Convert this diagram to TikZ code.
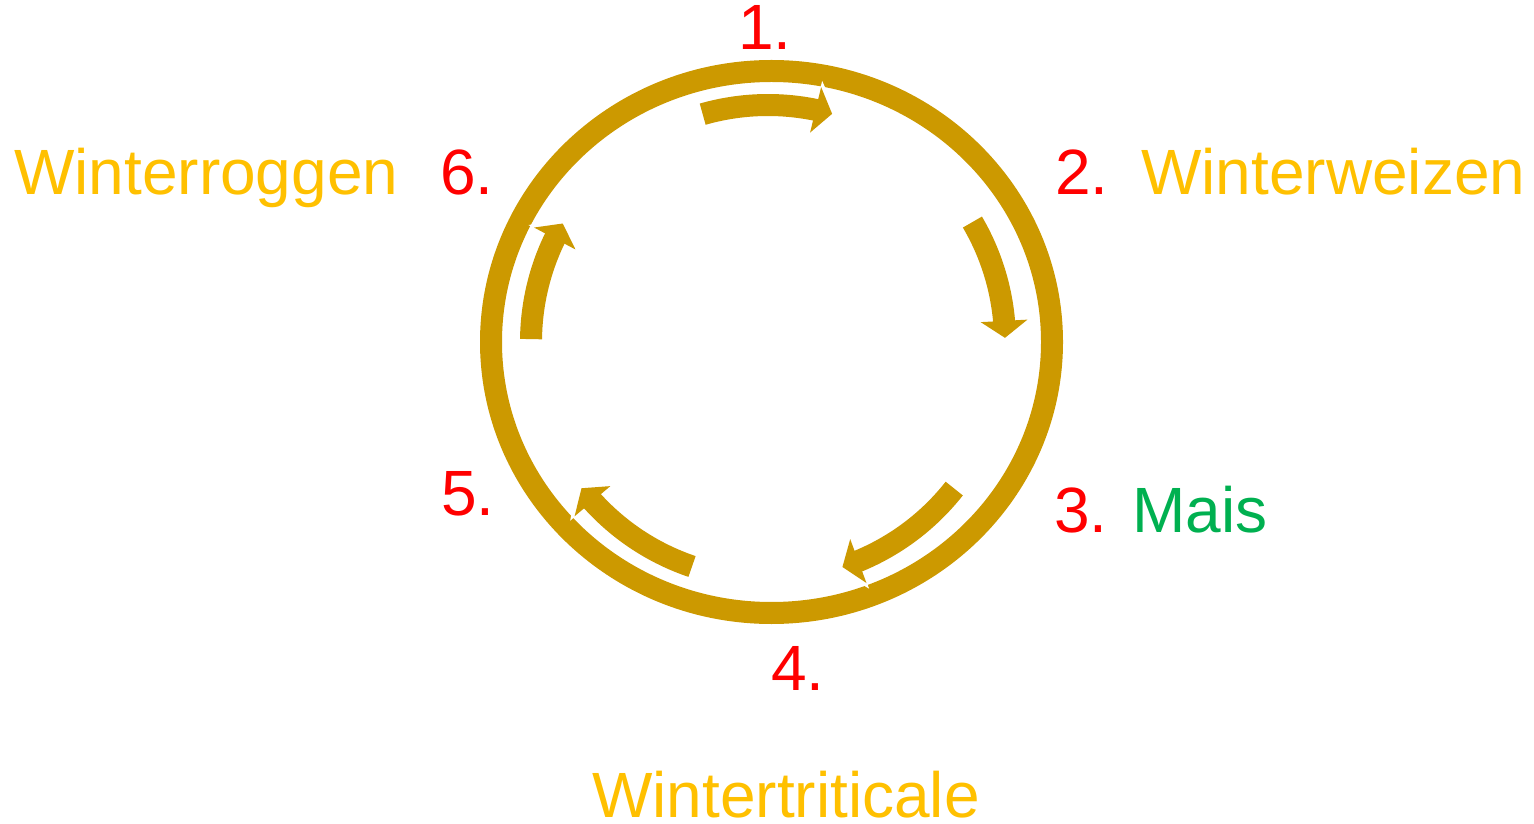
\documentclass[tikz,border=0pt]{standalone}
\usepackage{fontspec}
\setmainfont{Liberation Sans}
\usetikzlibrary{arrows.meta,bending}

\definecolor{ringgold}{RGB}{204,153,0}
\definecolor{numred}{RGB}{255,0,0}
\definecolor{cropyellow}{RGB}{255,192,0}
\definecolor{cropgreen}{RGB}{0,176,80}

\begin{document}
\begin{tikzpicture}[
    x=1pt, y=1pt,
    ring/.style={draw=ringgold, line width=22pt},
    halo/.style={draw=white, line width=28pt, -{Triangle[width=58pt,length=24pt]}},
    cyclearrow/.style={draw=ringgold, line width=22pt, -{Triangle[width=46pt,length=17pt]}},
    number/.style={anchor=base west, inner sep=0pt, text=numred, font=\fontsize{64}{64}\selectfont},
    crop/.style={anchor=base west, inner sep=0pt, text=cropyellow, font=\fontsize{64}{64}\selectfont},
]
\useasboundingbox (0,0) rectangle (1534,823);

\coordinate (ringc) at (771.5,481);
\coordinate (arrowc) at (768,481);

% Ring
\draw[ring] (ringc) ellipse[x radius=280.5, y radius=271];

% White halos
\draw[halo] ([shift={(106:237)}]arrowc) arc[start angle=106, end angle=72.8, radius=237];
\draw[halo] ([shift={(30.4:237)}]arrowc) arc[start angle=30.4, end angle=-0.5, radius=237];
\draw[halo] ([shift={(-38.2:237)}]arrowc) arc[start angle=-38.2, end angle=-73.2, radius=237];
\draw[halo] ([shift={(251.3:237)}]arrowc) arc[start angle=251.3, end angle=216.6, radius=237];
\draw[halo] ([shift={(179.3:237)}]arrowc) arc[start angle=179.3, end angle=148.5, radius=237];

% Cycle arrows
\draw[cyclearrow] ([shift={(106:237)}]arrowc) arc[start angle=106, end angle=74.3, radius=237];
\draw[cyclearrow] ([shift={(30.4:237)}]arrowc) arc[start angle=30.4, end angle=1, radius=237];
\draw[cyclearrow] ([shift={(-38.2:237)}]arrowc) arc[start angle=-38.2, end angle=-71.7, radius=237];
\draw[cyclearrow] ([shift={(251.3:237)}]arrowc) arc[start angle=251.3, end angle=218.1, radius=237];
\draw[cyclearrow] ([shift={(179.3:237)}]arrowc) arc[start angle=179.3, end angle=150, radius=237];

% Numbers
\node[number] (n1) at (738,773) {1.};
\node[number] (n2) at (1055,628) {2.};
\node[number] (n3) at (1054,291) {3.};
\node[number] (n4) at (771,133) {4.};
\node[number] (n5) at (441,308) {5.};
\node[number] (n6) at (440,628) {6.};

% Crops
\node[crop] (weizen) at (1141,628) {Winterweizen};
\node[crop, text=cropgreen] (mais) at (1132,291) {Mais};
\node[crop] (triticale) at (592,6) {Wintertriticale};
\node[crop] (roggen) at (14,628) {Winterroggen};

\end{tikzpicture}
\end{document}
